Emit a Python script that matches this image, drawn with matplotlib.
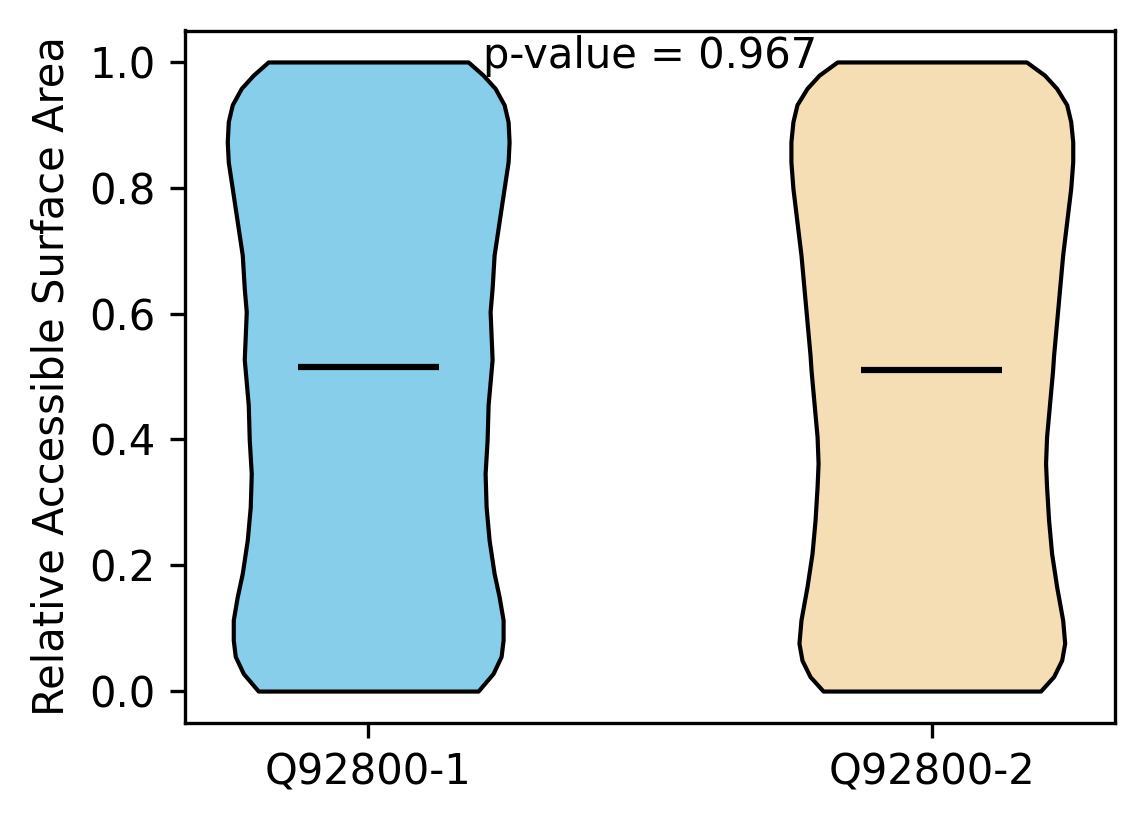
import numpy as np
import matplotlib.pyplot as plt

# Labels and summary values
labels = ["Q92800-1", "Q92800-2"]
means = [0.515, 0.511]
colors = ["skyblue", "wheat"]
p_text = "p-value = 0.967"

# Density profiles (relative half-width of each violin at a given RSA value)
rsa_1 = [0.0, 0.028, 0.055, 0.081, 0.113, 0.150, 0.187, 0.240, 0.293,
         0.346, 0.399, 0.455, 0.527, 0.603, 0.640, 0.693, 0.746, 0.799,
         0.841, 0.873, 0.905, 0.932, 0.958, 0.979, 1.0]
dens_1 = [110, 125, 133, 135, 135, 131, 126, 121, 118,
          117, 119, 120, 124, 122, 124, 126, 131, 136,
          140, 141, 140, 136, 127, 115, 100]

rsa_2 = [0.0, 0.023, 0.049, 0.076, 0.113, 0.166, 0.219, 0.272, 0.325,
         0.362, 0.404, 0.457, 0.510, 0.534, 0.587, 0.640, 0.693, 0.746,
         0.799, 0.841, 0.873, 0.905, 0.932, 0.958, 0.979, 1.0]
dens_2 = [108, 121, 129, 132, 130, 124, 119, 116, 114,
          113, 114, 117, 120, 121, 124, 127, 130, 134,
          138, 140, 140, 138, 134, 124, 112, 94]


def make_stats(coords, vals, mean):
    coords = np.array(coords, dtype=float)
    return {
        "coords": coords,
        "vals": np.array(vals, dtype=float),
        "mean": mean,
        "median": mean,
        "min": coords.min(),
        "max": coords.max(),
    }


def main():
    fig = plt.figure(figsize=(1144 / 300, 824 / 300), dpi=300)
    ax = fig.add_axes([185 / 1144, 1 - 722.5 / 824,
                       (1115 - 185) / 1144, (722.5 - 30.5) / 824])

    stats = [make_stats(rsa_1, dens_1, means[0]),
             make_stats(rsa_2, dens_2, means[1])]
    parts = ax.violin(stats, positions=[1, 2], widths=0.5,
                      showmeans=True, showextrema=False)

    for body, c in zip(parts["bodies"], colors):
        body.set_facecolor(c)
        body.set_edgecolor("black")
        body.set_linewidth(1.0)
        body.set_alpha(1)
    parts["cmeans"].set_color("black")
    parts["cmeans"].set_linewidth(1.5)

    ax.set_xticks([1, 2])
    ax.set_xticklabels(labels)
    ax.set_ylabel("Relative Accessible Surface Area")
    ax.text(1.5, 0.99, p_text, ha="center", va="baseline")

    fig.savefig("out.png", dpi=300)
    plt.close(fig)


if __name__ == "__main__":
    main()
